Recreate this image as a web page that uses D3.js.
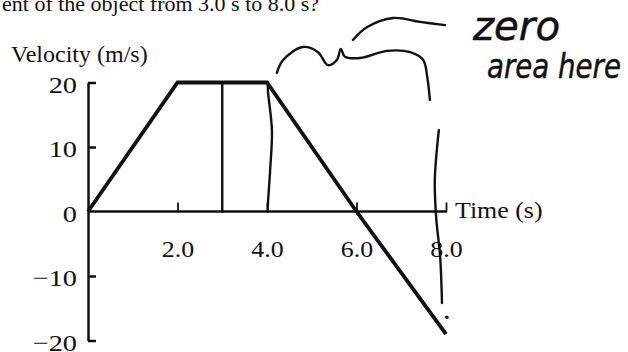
<!DOCTYPE html>
<html>
<head>
<meta charset="utf-8">
<script src="https://cdn.jsdelivr.net/npm/d3@7"></script>
<style>
  html, body { margin: 0; padding: 0; background: #fff; }
  svg { display: block; }
</style>
</head>
<body>
<svg id="chart" width="628" height="352"></svg>
<script>
// ---- data ----
const timeTicks = [2, 4, 6, 8];
const timeTickLabels = ["2.0", "4.0", "6.0", "8.0"];
const velocityTicks = [-20, -10, 0, 10, 20];
const velocityTickLabels = ["\u221220", "\u221210", "0", "10", "20"];
const motionTime = [0, 2, 4, 6, 8];
const motionVelocity = [0, 20, 20, 0, -19];
// handwritten annotations (in data units: time, velocity)
const markAt3 = [[3, 20], [3, 0]];
const markAt4 = [[4.02, 20], [4.02, 18.8], [4.11, 12.6], [4.07, 6.4], [4.02, 1.0], [4.02, 0]];
const braceLower = [[4.22, 21.5], [4.36, 23.5], [4.80, 25.5], [5.14, 24.7], [5.36, 22.7], [5.56, 23.5], [5.65, 25.2], [5.74, 24.0], [6.08, 23.8], [6.68, 24.9], [7.20, 24.7], [7.49, 23.5], [7.58, 20.9], [7.64, 17.3]];
const braceUpper = [[5.92, 26.6], [6.24, 28.6], [6.82, 30.0], [7.42, 29.4], [7.98, 28.9]];
const markAt8 = [[7.84, 12.6], [7.75, 4.9], [7.78, -0.9], [7.87, -7.1], [7.91, -14.2]];
const dotAt8 = [8.02, -16.4];
const questionText = "ent of the object from 3.0 s to 8.0 s?";
const yTitle = "Velocity (m/s)";
const xTitle = "Time (s)";
const noteLines = ["zero", "area here"];

// ---- layout ----
const svg = d3.select("#chart");
const x = d3.scaleLinear().domain([0, 8]).range([88, 446]);
const y = d3.scaleLinear().domain([-20, 20]).range([340.5, 82.5]);
const ink = "#111";
const serif = "'Liberation Serif', 'Times New Roman', serif";

function stretchedText(parent, px, py, anchor, size, str, sx) {
  return parent.append("text")
    .attr("transform", `translate(${px},${py}) scale(${sx},1)`)
    .attr("text-anchor", anchor)
    .attr("font-family", serif).attr("font-size", size).attr("fill", ink)
    .text(str);
}

// question text (cropped at top)
svg.append("text").attr("x", 2).attr("y", 11)
  .attr("font-family", serif).attr("font-size", 22).attr("fill", ink)
  .text(questionText);

// y axis
const yAxis = d3.axisRight(y).tickValues(velocityTicks)
  .tickFormat(() => "").tickSize(8).tickSizeOuter(0);
const gy = svg.append("g").attr("transform", `translate(${x(0)},0)`).call(yAxis);
gy.select(".domain").attr("stroke", ink).attr("stroke-width", 2.5);
gy.selectAll(".tick line").attr("stroke", ink).attr("stroke-width", 2.5)
  .filter(d => d === 0).remove();
gy.selectAll(".tick").each(function (d, i) {
  stretchedText(d3.select(this), -11, 9.5, "end", 24, velocityTickLabels[i], 1.18);
});

// x axis
const xAxis = d3.axisTop(x).tickValues(timeTicks)
  .tickFormat(() => "").tickSize(9).tickSizeOuter(0);
const gx = svg.append("g").attr("transform", `translate(0,${y(0)})`).call(xAxis);
gx.select(".domain").attr("stroke", ink).attr("stroke-width", 2.5)
  .attr("d", `M${x(0)},0H${x(8) + 1}`);
gx.selectAll(".tick line").attr("stroke", ink).attr("stroke-width", 1.8);
gx.selectAll(".tick").each(function (d, i) {
  stretchedText(d3.select(this), 0, 45, "middle", 24, timeTickLabels[i], 1.08);
});

// axis titles
stretchedText(svg, 11, 62, "start", 24, yTitle, 1.0);
stretchedText(svg, 455, 218, "start", 24, xTitle, 1.08);

// velocity line
const line = d3.line().x(d => x(d[0])).y(d => y(d[1]));
svg.append("path")
  .datum(motionTime.map((t, i) => [t, motionVelocity[i]]))
  .attr("d", line).attr("fill", "none").attr("stroke", ink)
  .attr("stroke-width", 3.8).attr("stroke-linejoin", "miter");

// handwriting
const curve = d3.line().x(d => x(d[0])).y(d => y(d[1])).curve(d3.curveCatmullRom.alpha(0.5));
[markAt3, markAt4, braceLower, braceUpper, markAt8].forEach(pts => {
  svg.append("path").datum(pts).attr("d", curve)
    .attr("fill", "none").attr("stroke", ink).attr("stroke-width", 2.4)
    .attr("stroke-linecap", "round").attr("stroke-linejoin", "round");
});
svg.append("circle").attr("cx", x(dotAt8[0])).attr("cy", y(dotAt8[1])).attr("r", 1.8).attr("fill", ink);

const hand = "'DejaVu Sans', sans-serif";
svg.append("text").attr("x", 473).attr("y", 40)
  .attr("font-family", hand).attr("font-style", "oblique").attr("font-size", 40)
  .attr("textLength", 87).attr("lengthAdjust", "spacingAndGlyphs")
  .attr("fill", ink).attr("stroke", ink).attr("stroke-width", 0.5)
  .text(noteLines[0]);
svg.append("text").attr("x", 487).attr("y", 78)
  .attr("font-family", hand).attr("font-style", "oblique").attr("font-size", 34)
  .attr("textLength", 134).attr("lengthAdjust", "spacingAndGlyphs")
  .attr("fill", ink).attr("stroke", ink).attr("stroke-width", 0.5)
  .text(noteLines[1]);
</script>
</body>
</html>
